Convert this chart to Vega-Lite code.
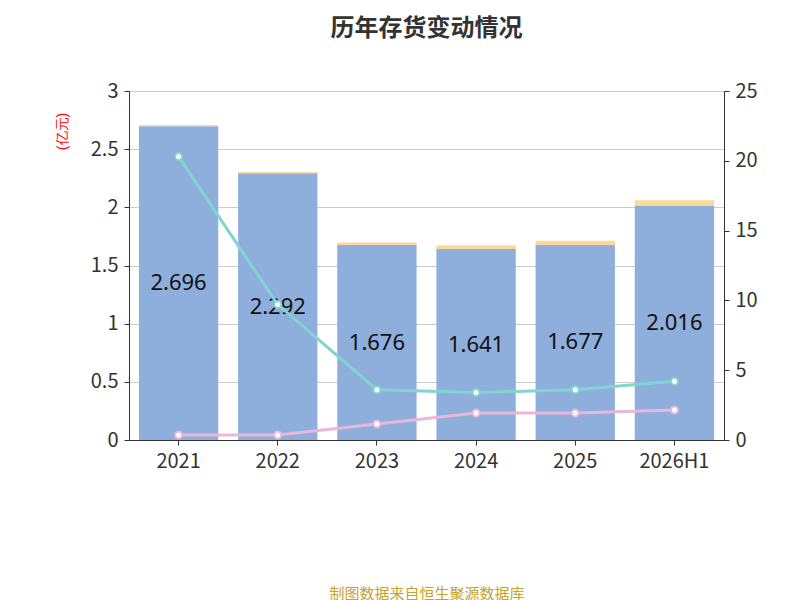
{
  "$schema": "https://vega.github.io/schema/vega-lite/v6.json",
  "width": 595,
  "height": 349,
  "padding": {"left": 55, "top": 17, "right": 20, "bottom": 5},
  "title": {"text": "历年存货变动情况", "fontSize": 24, "font": "Noto Sans CJK SC", "fontWeight": "bold", "color": "#333333", "offset": 40},
  "data": {
    "values": [
      {"year": "2021", "book": 2.696, "reserve": 0.012, "share": 20.3, "provision": 0.36},
      {"year": "2022", "book": 2.292, "reserve": 0.012, "share": 9.7, "provision": 0.36},
      {"year": "2023", "book": 1.676, "reserve": 0.022, "share": 3.6, "provision": 1.15},
      {"year": "2024", "book": 1.641, "reserve": 0.032, "share": 3.4, "provision": 1.93},
      {"year": "2025", "book": 1.677, "reserve": 0.035, "share": 3.6, "provision": 1.93},
      {"year": "2026H1", "book": 2.016, "reserve": 0.045, "share": 4.2, "provision": 2.15}
    ]
  },
  "encoding": {
    "x": {"field": "year", "type": "nominal", "title": "制图数据来自恒生聚源数据库",
      "scale": {"paddingInner": 0.2, "paddingOuter": 0.1},
      "axis": {"labelAngle": 0, "labelFontSize": 20, "labelColor": "#333", "domainColor": "#333", "tickColor": "#333", "labelFont": "Noto Sans CJK SC",
        "titleColor": "#c9a227", "titleFontSize": 15, "titleFontWeight": "normal", "titleFont": "Noto Sans CJK SC", "titlePadding": 115}}
  },
  "layer": [
    {
      "layer": [
        {
          "transform": [
            {"fold": ["book", "reserve"], "as": ["kind", "value"]},
            {"calculate": "datum.kind == 'book' ? '存货账面价值' : '存货跌价准备'", "as": "series"},
            {"calculate": "datum.kind == 'book' ? 0 : 1", "as": "ord"}
          ],
          "mark": {"type": "bar"},
          "encoding": {
            "y": {"field": "value", "type": "quantitative", "stack": "zero",
              "scale": {"domain": [0, 3]},
              "axis": {"title": "(亿元)", "titleColor": "red", "titleFontSize": 14, "titleFontWeight": "normal", "titleAngle": -90, "titleX": -60, "titleY": 40,
                "values": [0, 0.5, 1, 1.5, 2, 2.5, 3], "format": "~g", "labelFontSize": 20, "labelColor": "#333", "domainColor": "#333", "tickColor": "#333", "gridColor": "#cccccc", "labelFont": "Noto Sans CJK SC"}},
            "order": {"field": "ord"},
            "color": {"field": "series", "type": "nominal",
              "scale": {"domain": ["存货账面价值", "存货跌价准备"], "range": ["#8eaedb", "#fdd89b"]},
              "legend": {"orient": "bottom", "direction": "horizontal", "title": null, "symbolType": "square", "symbolSize": 500, "labelFontSize": 20, "labelFont": "Noto Sans CJK SC", "labelColor": "#333", "offset": 15}}
          }
        },
        {
          "transform": [{"calculate": "datum.book / 2", "as": "mid"}],
          "mark": {"type": "text", "fontSize": 22, "color": "#111", "font": "Noto Sans"},
          "encoding": {
            "y": {"field": "mid", "type": "quantitative"},
            "text": {"field": "book", "type": "quantitative", "format": ".3f"}
          }
        }
      ]
    },
    {
      "transform": [
        {"fold": ["share", "provision"], "as": ["kind", "pct"]},
        {"calculate": "datum.kind == 'share' ? '存货占净资产比例' : '存货计提比例'", "as": "line"}
      ],
      "mark": {"type": "line", "strokeWidth": 3, "point": {"filled": true, "fill": "white", "size": 50, "strokeWidth": 2}},
      "encoding": {
        "y": {"field": "pct", "type": "quantitative",
          "scale": {"domain": [0, 25]},
          "axis": {"orient": "right", "title": "%", "titleColor": "red", "titleFontSize": 14, "titleFontWeight": "normal", "titleAngle": 90, "titleX": 75, "titleY": 10,
            "values": [0, 5, 10, 15, 20, 25], "grid": false, "labelFontSize": 20, "labelColor": "#333", "domainColor": "#333", "tickColor": "#333", "labelFont": "Noto Sans CJK SC"}},
        "stroke": {"field": "line", "type": "nominal",
          "scale": {"domain": ["存货占净资产比例", "存货计提比例"], "range": ["#82d4d1", "#e8b7d9"]},
          "legend": {"orient": "bottom", "direction": "horizontal", "title": null, "symbolType": "circle", "symbolSize": 300, "symbolFillColor": "white", "symbolStrokeWidth": 2, "labelFontSize": 20, "labelFont": "Noto Sans CJK SC", "labelColor": "#333"}}
      }
    }
  ],
  "resolve": {"scale": {"y": "independent", "color": "independent"}},
  "config": {
    "view": {"stroke": null},
    "axis": {"labelPadding": 6},
    "legend": {"labelLimit": 300}
  }
}
